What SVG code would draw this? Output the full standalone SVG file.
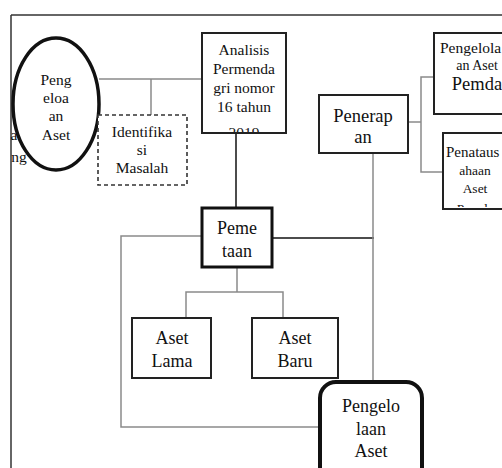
<svg xmlns="http://www.w3.org/2000/svg" width="502" height="468" viewBox="0 0 502 468" font-family="'Liberation Serif', 'DejaVu Serif', 'Times New Roman', serif">
<style>
text{font-family:'Liberation Serif','DejaVu Serif','Times New Roman',serif;fill:#111;text-anchor:middle}
.box{fill:#fff;stroke:#222;stroke-width:2}
.thick{fill:#fff;stroke:#111;stroke-width:3}
.gl{fill:none;stroke:#8a8a8a;stroke-width:1.5}
.bl{fill:none;stroke:#111;stroke-width:1.5}
.f15{font-size:15.5px}
.f18{font-size:18px}
.f14{font-size:14px}
.f13{font-size:13.5px}
</style>
<defs>
<clipPath id="cA"><rect x="203" y="34" width="82" height="98"/></clipPath>
<clipPath id="cR2"><rect x="444" y="134" width="70" height="73"/></clipPath>
</defs>
<g id="frame">
<line x1="11" y1="15" x2="502" y2="15" stroke="#333" stroke-width="1.5"/>
<line x1="11" y1="15" x2="11" y2="468" stroke="#333" stroke-width="1.5"/>
<text class="f15" x="14" y="140">a</text>
<text class="f15" x="19" y="162">ng</text>
</g>
<g id="connectors">
<path class="gl" d="M99 79H202M151 79V115"/>
<path class="bl" d="M236 133V208"/>
<path class="bl" d="M272 238H374"/>
<path class="gl" d="M202 236H121V427H320"/>
<path class="gl" d="M237 267V292M186 317V292H283V317"/>
<path class="gl" d="M373 153V382"/>
<path class="gl" d="M408 122H421M434 77H421V172H443"/>
</g>
<g id="pengeloaan-aset">
<ellipse cx="56" cy="104" rx="43" ry="66" fill="#fff" stroke="#111" stroke-width="3.5"/>
<text class="f15" x="56" y="85">Peng</text>
<text class="f15" x="56" y="103">eloa</text>
<text class="f15" x="56" y="121">an</text>
<text class="f15" x="56" y="140">Aset</text>
</g>
<g id="identifikasi">
<rect x="98" y="115" width="89" height="70" fill="#fff" stroke="#333" stroke-width="1.6" stroke-dasharray="4 3"/>
<text class="f15" x="142" y="137">Identifika</text>
<text class="f15" x="142" y="155">si</text>
<text class="f15" x="142" y="173">Masalah</text>
</g>
<g id="analisis">
<rect class="box" x="202" y="33" width="84" height="100"/>
<g clip-path="url(#cA)">
<text class="f15" x="244" y="55">Analisis</text>
<text class="f15" x="244" y="74">Permenda</text>
<text class="f15" x="244" y="93">gri nomor</text>
<text class="f15" x="244" y="112">16 tahun</text>
<text class="f15" x="244" y="138">2019</text>
</g>
</g>
<g id="pemetaan">
<rect class="thick" x="202" y="208" width="70" height="59"/>
<text class="f18" x="237" y="234">Peme</text>
<text class="f18" x="237" y="257">taan</text>
</g>
<g id="aset-lama">
<rect class="box" x="132" y="318" width="79" height="60"/>
<text class="f18" x="172" y="344">Aset</text>
<text class="f18" x="172" y="367">Lama</text>
</g>
<g id="aset-baru">
<rect class="box" x="252" y="318" width="86" height="60"/>
<text class="f18" x="295" y="344">Aset</text>
<text class="f18" x="295" y="367">Baru</text>
</g>
<g id="penerapan">
<rect class="box" x="319" y="95" width="89" height="58"/>
<text class="f18" x="363" y="122" style="font-size:18.5px">Penerap</text>
<text class="f18" x="363" y="143" style="font-size:18.5px">an</text>
</g>
<g id="pengelolaan-aset-pemda">
<rect class="box" x="434" y="33" width="90" height="81"/>
<text class="f14" x="440" y="53" style="text-anchor:start;font-size:15.5px">Pengelola</text>
<text class="f14" x="477" y="70">an Aset</text>
<text class="f18" x="477" y="90" style="font-size:18.5px">Pemda</text>
</g>
<g id="penatausahaan-aset-pemda">
<rect class="box" x="443" y="133" width="80" height="76"/>
<g clip-path="url(#cR2)">
<text class="f13" x="446" y="157" style="text-anchor:start;font-size:15px">Penataus</text>
<text class="f13" x="475" y="175">ahaan</text>
<text class="f13" x="475" y="193">Aset</text>
<text class="f13" x="475" y="213">Pemda</text>
</g>
</g>
<g id="pengelolaan-aset">
<rect x="320" y="382" width="102" height="110" rx="16" fill="#fff" stroke="#111" stroke-width="4"/>
<text class="f18" x="371" y="412">Pengelo</text>
<text class="f18" x="371" y="435">laan</text>
<text class="f18" x="371" y="457">Aset</text>
</g>
</svg>
